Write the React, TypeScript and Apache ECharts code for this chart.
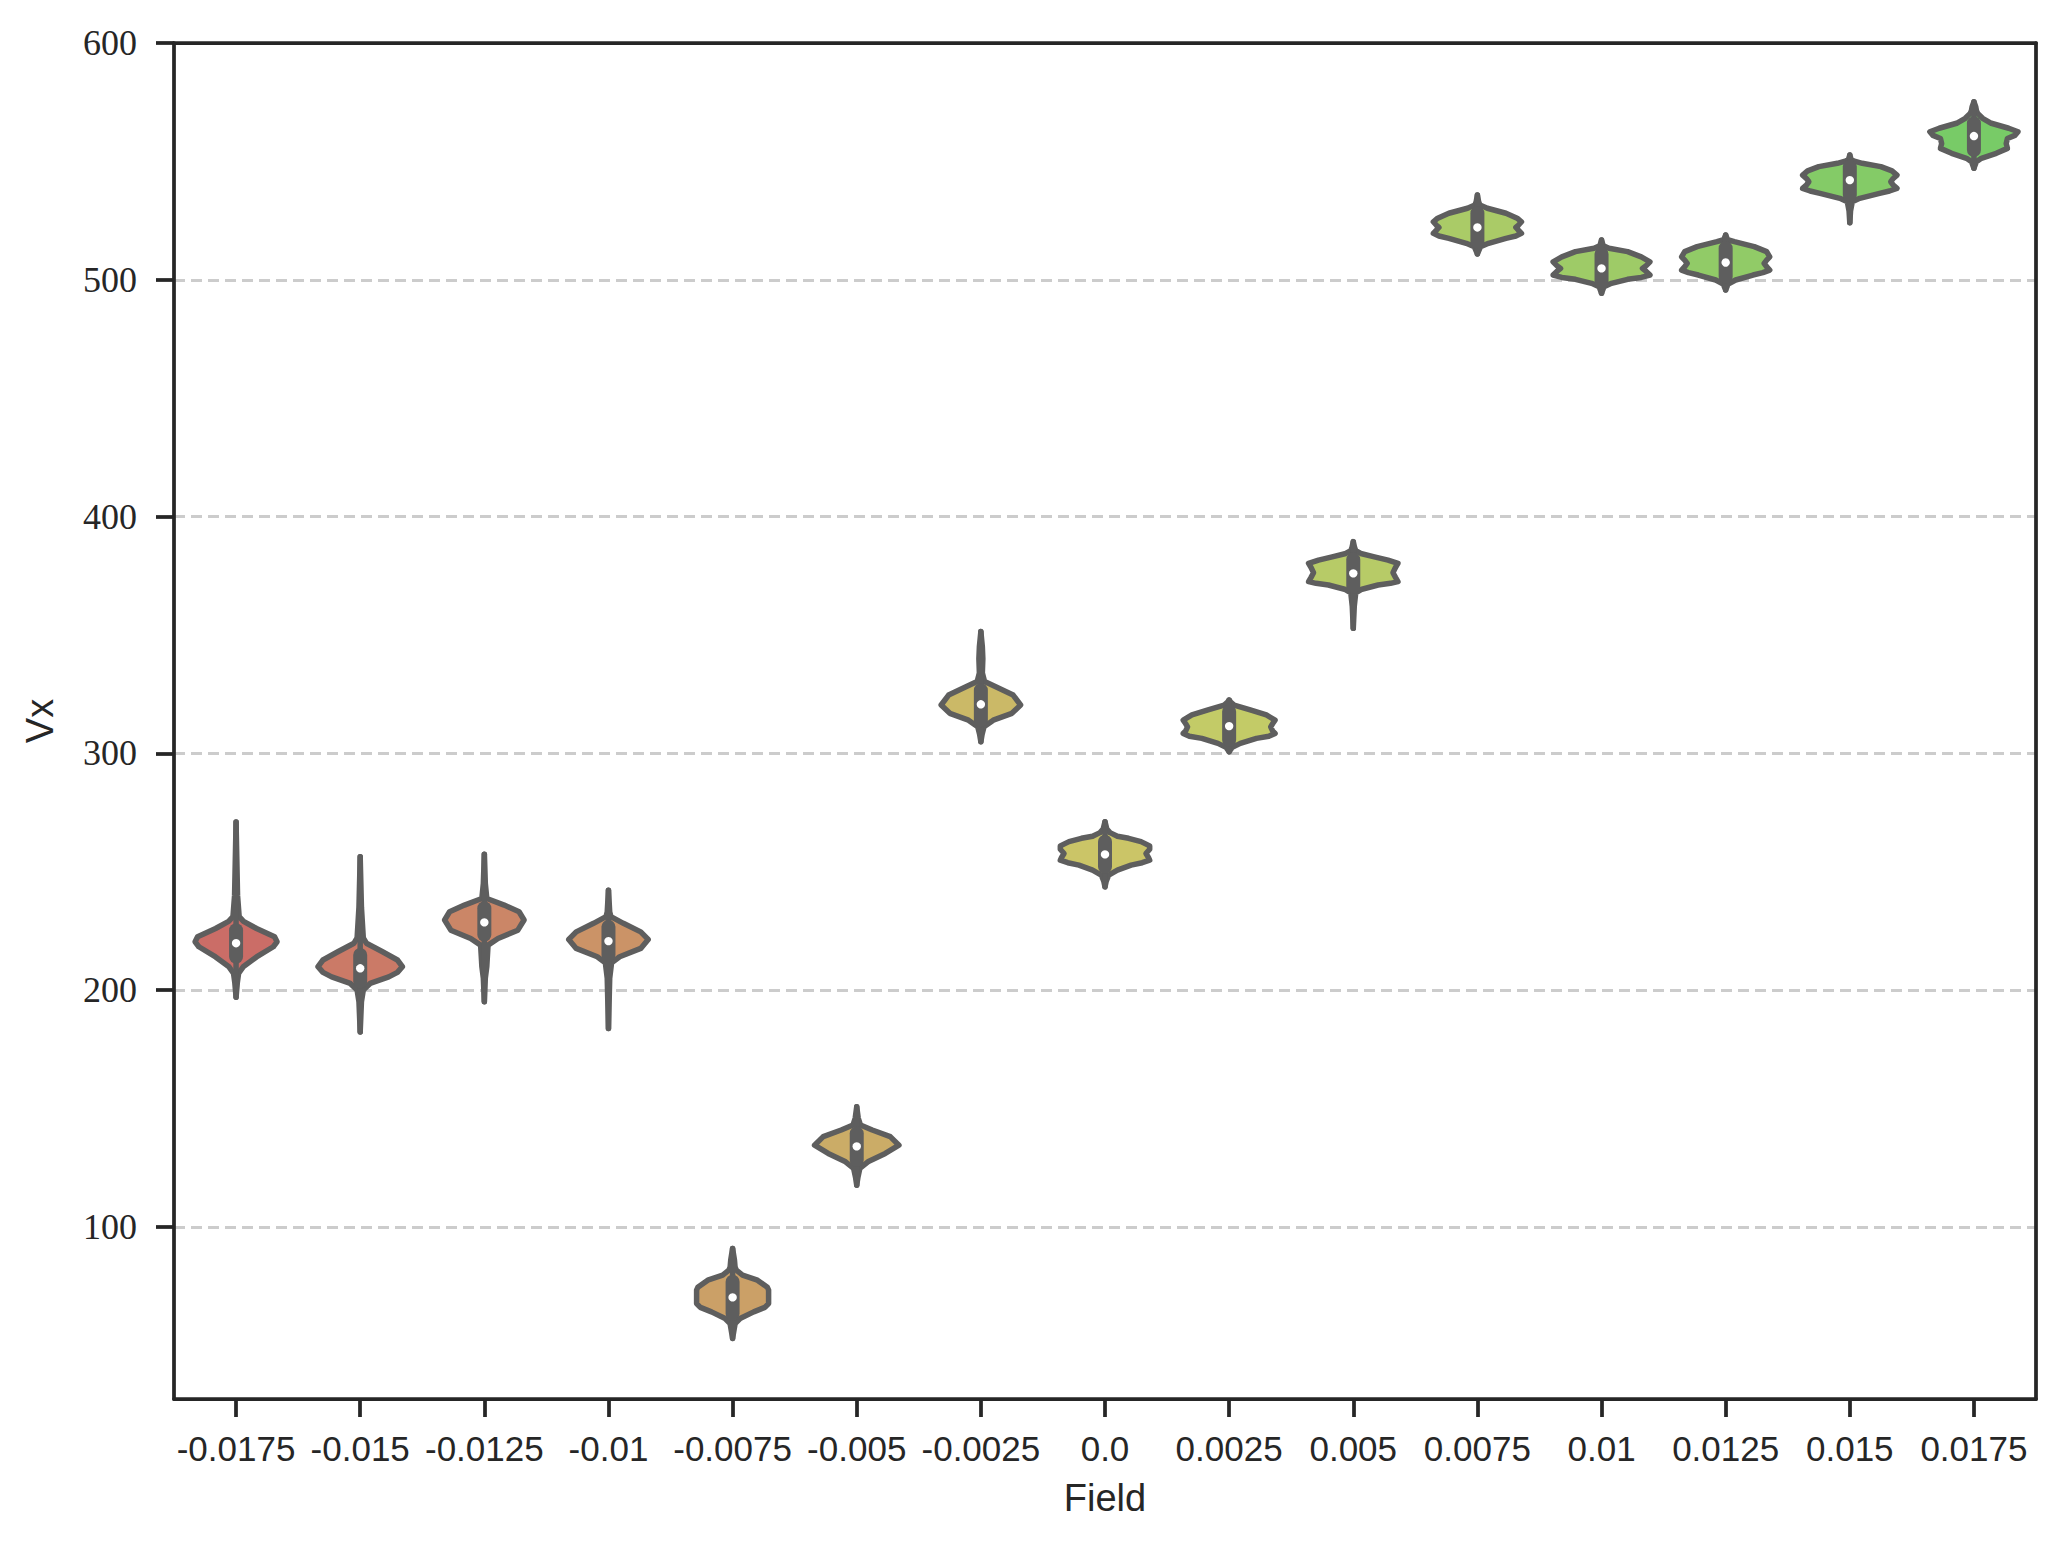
import React, { useEffect, useRef } from "react";
import * as echarts from "echarts";

const categories = ["-0.0175", "-0.015", "-0.0125", "-0.01", "-0.0075", "-0.005", "-0.0025", "0.0", "0.0025", "0.005", "0.0075", "0.01", "0.0125", "0.015", "0.0175"];

const q1 = [214.1, 203.6, 223.4, 214.8, 63.4, 128.2, 314.0, 252.1, 305.6, 370.4, 516.1, 498.8, 501.3, 535.8, 554.8];
const q3 = [225.3, 214.8, 234.6, 226.7, 76.8, 139.5, 326.7, 262.7, 317.6, 381.9, 528.1, 510.9, 513.3, 547.8, 566.1];
const medians = [219.8, 209.2, 228.6, 220.7, 70.2, 134.0, 320.7, 257.3, 311.5, 376.0, 522.1, 504.8, 507.3, 542.1, 560.7];

// KDE outline per category: [value, half-width as fraction of the category band]
const violinProfiles: number[][][] = [
  [[271, 0], [240, 0.012], [231, 0.025], [229, 0.06], [226, 0.165], [222.5, 0.31], [220.4, 0.33], [218.3, 0.3], [214, 0.165], [210, 0.06], [207, 0.02], [203, 0.01], [197, 0]],
  [[256.3, 0], [235, 0.01], [222, 0.025], [219.8, 0.05], [216.2, 0.18], [212.7, 0.3], [209.9, 0.34], [207.5, 0.3], [205.6, 0.23], [202.8, 0.08], [200, 0.025], [195, 0.01], [182.3, 0]],
  [[257.4, 0], [245, 0.008], [238.7, 0.02], [235.9, 0.16], [233.1, 0.28], [229.6, 0.32], [225.3, 0.27], [221.8, 0.11], [219, 0.03], [210, 0.02], [205, 0.008], [195.1, 0]],
  [[242.2, 0], [233, 0.01], [231, 0.02], [228.2, 0.12], [224.6, 0.26], [221.4, 0.32], [217.6, 0.26], [214.1, 0.09], [211.5, 0.025], [205, 0.01], [183.8, 0]],
  [[90.9, 0], [86, 0.015], [83, 0.02], [81.7, 0.03], [79.6, 0.08], [77.5, 0.2], [74.5, 0.28], [73.3, 0.29], [67.6, 0.29], [66, 0.26], [64.1, 0.17], [61.3, 0.06], [59.1, 0.02], [52.9, 0]],
  [[150.7, 0], [146, 0.012], [143, 0.03], [140.9, 0.125], [138.1, 0.27], [134.5, 0.34], [131, 0.23], [127.5, 0.09], [124.7, 0.025], [121, 0.01], [117.6, 0]],
  [[351.4, 0], [345, 0.012], [340, 0.016], [334, 0.012], [330.3, 0.03], [328.1, 0.12], [324.6, 0.26], [320.4, 0.32], [316.9, 0.25], [314, 0.1], [311.2, 0.025], [308, 0.01], [304.9, 0]],
  [[271.1, 0], [268, 0.015], [266.5, 0.04], [265, 0.1], [264.1, 0.19], [262.7, 0.29], [260.9, 0.36], [259.5, 0.36], [257.7, 0.33], [256, 0.35], [254.9, 0.36], [253.8, 0.3], [252.8, 0.21], [250.7, 0.1], [248.6, 0.03], [246, 0.01], [243.6, 0]],
  [[322.5, 0], [321.5, 0.015], [320.4, 0.04], [318.3, 0.17], [316.2, 0.3], [314, 0.37], [312.5, 0.35], [311.2, 0.335], [309.5, 0.35], [308.4, 0.37], [307.2, 0.32], [306.3, 0.22], [304.2, 0.09], [302.5, 0.025], [300.7, 0]],
  [[389.4, 0], [387, 0.01], [385.6, 0.02], [384.4, 0.06], [383, 0.17], [381.6, 0.28], [380.2, 0.36], [378.5, 0.34], [376.3, 0.32], [374.3, 0.34], [372.5, 0.36], [371.8, 0.3], [371.1, 0.2], [369.3, 0.07], [367.8, 0.02], [362, 0.008], [352.8, 0]],
  [[535.8, 0], [533, 0.01], [531.6, 0.02], [530.2, 0.08], [528.1, 0.23], [526, 0.32], [524.5, 0.355], [523, 0.33], [522.1, 0.31], [521, 0.33], [519.6, 0.355], [518.5, 0.31], [517.5, 0.23], [515.4, 0.09], [514, 0.025], [510.9, 0]],
  [[516.8, 0], [515, 0.01], [514.2, 0.02], [513.3, 0.06], [511.9, 0.21], [509.7, 0.32], [507.6, 0.39], [506, 0.36], [504.8, 0.33], [503.5, 0.36], [502, 0.39], [501, 0.32], [500.2, 0.21], [498.5, 0.08], [497.1, 0.02], [494.3, 0]],
  [[518.9, 0], [517, 0.015], [516.1, 0.07], [514, 0.23], [511.9, 0.33], [509.7, 0.355], [508.3, 0.33], [506.9, 0.31], [505.5, 0.33], [504.1, 0.355], [503, 0.3], [502, 0.22], [499.9, 0.08], [498.2, 0.02], [495.7, 0]],
  [[552.7, 0], [551, 0.01], [550.2, 0.03], [549.2, 0.1], [547.8, 0.25], [546, 0.34], [544.2, 0.38], [542.8, 0.35], [541.4, 0.33], [540, 0.35], [538.6, 0.38], [537.5, 0.32], [536.5, 0.24], [534.4, 0.08], [533, 0.02], [529, 0.006], [524.1, 0]],
  [[575.2, 0], [573, 0.015], [571.5, 0.02], [570.3, 0.03], [568.2, 0.07], [566.1, 0.14], [564, 0.28], [562.5, 0.355], [561, 0.33], [559.7, 0.27], [557.5, 0.26], [555.5, 0.27], [553.4, 0.18], [551.3, 0.06], [549.9, 0.02], [547.1, 0]],
];

const yTickValues = [100, 200, 300, 400, 500, 600];

const palette = ["#cb6d67", "#cb7a67", "#cb8667", "#cb9367", "#cba067", "#cbac67", "#cbb967", "#cbc567", "#c3cb67", "#b7cb67", "#aacb67", "#9ecb67", "#91cb67", "#84cb67", "#78cb67"];

const INK = "#262626";
const GRAY = "#5e5e5e";

export default function App() {
  const ref = useRef<HTMLDivElement>(null);

  useEffect(() => {
    if (!ref.current) return;
    const chart = echarts.init(ref.current, null, { renderer: "svg" });

    const renderItem = (params: any, api: any) => {
      const i = api.value(0);
      const prof = violinProfiles[i];
      const band = api.size([1, 0])[0];
      const cx = api.coord([i, medians[i]])[0];
      const yOf = (v: number) => api.coord([i, v])[1];
      const right = prof.map(([v, w]) => [cx + w * band, yOf(v)]);
      const left = prof.slice().reverse().map(([v, w]) => [cx - w * band, yOf(v)]);
      const pts = right.concat(left);
      const yTop = yOf(prof[0][0]);
      const yBot = yOf(prof[prof.length - 1][0]);
      return {
        type: "group",
        children: [
          {
            type: "polygon",
            shape: { points: pts },
            style: { fill: palette[i], stroke: GRAY, lineWidth: 5.5, lineJoin: "round" },
          },
          {
            type: "line",
            shape: { x1: cx, y1: yTop, x2: cx, y2: yBot },
            style: { stroke: GRAY, lineWidth: 5.5, lineCap: "round" },
          },
          {
            type: "line",
            shape: { x1: cx, y1: yOf(q3[i]), x2: cx, y2: yOf(q1[i]) },
            style: { stroke: GRAY, lineWidth: 14, lineCap: "round" },
          },
          {
            type: "circle",
            shape: { cx: cx, cy: yOf(medians[i]), r: 4.2 },
            style: { fill: "#ffffff", stroke: "none" },
          },
        ],
      };
    };

    const spine = { show: true, lineStyle: { color: INK, width: 3.75 } };

    chart.setOption({
      animation: false,
      backgroundColor: "#ffffff",
      grid: { left: 174, right: 28, top: 43, bottom: 150 },
      xAxis: [
        {
          type: "category",
          data: categories,
          boundaryGap: true,
          name: "Field",
          nameLocation: "middle",
          nameGap: 80,
          nameTextStyle: { fontFamily: "Liberation Sans", fontSize: 38, color: INK },
          axisLine: spine,
          axisTick: { show: true, alignWithLabel: true, length: 18, lineStyle: { color: INK, width: 3.75 } },
          axisLabel: { fontFamily: "Liberation Sans", fontSize: 35, color: INK, margin: 32, interval: 0 },
          splitLine: { show: false },
          z: 5,
        },
        {
          type: "category",
          data: categories,
          position: "top",
          axisLine: spine,
          axisTick: { show: false },
          axisLabel: { show: false },
          splitLine: { show: false },
          z: 10,
        },
      ],
      yAxis: [
        {
          type: "value",
          min: 27.3,
          max: 600,
          name: "Vx",
          nameLocation: "middle",
          nameGap: 115,
          nameTextStyle: { fontFamily: "Liberation Sans", fontSize: 38, color: INK },
          axisLine: spine,
          axisTick: { show: true, length: 18, customValues: yTickValues, lineStyle: { color: INK, width: 3.75 } },
          axisLabel: { fontFamily: "Liberation Serif", fontSize: 36, color: INK, margin: 37, customValues: yTickValues },
          splitLine: { show: true, lineStyle: { color: "#cccccc", width: 3, type: [11, 6] } },
          z: 1,
        },
        {
          type: "value",
          min: 27.3,
          max: 600,
          position: "right",
          axisLine: spine,
          axisTick: { show: false },
          axisLabel: { show: false },
          splitLine: { show: false },
          z: 10,
        },
      ],
      series: [
        {
          type: "custom",
          renderItem,
          data: categories.map((c, i) => [i, medians[i]]),
          encode: { x: 0, y: 1 },
          xAxisIndex: 0,
          yAxisIndex: 0,
          clip: false,
          z: 3,
        },
      ],
    });

    return () => chart.dispose();
  }, []);

  return (
    <div
      ref={ref}
      style={{ position: "absolute", left: 0, top: 0, width: 2064, height: 1549, background: "#ffffff" }}
    />
  );
}
